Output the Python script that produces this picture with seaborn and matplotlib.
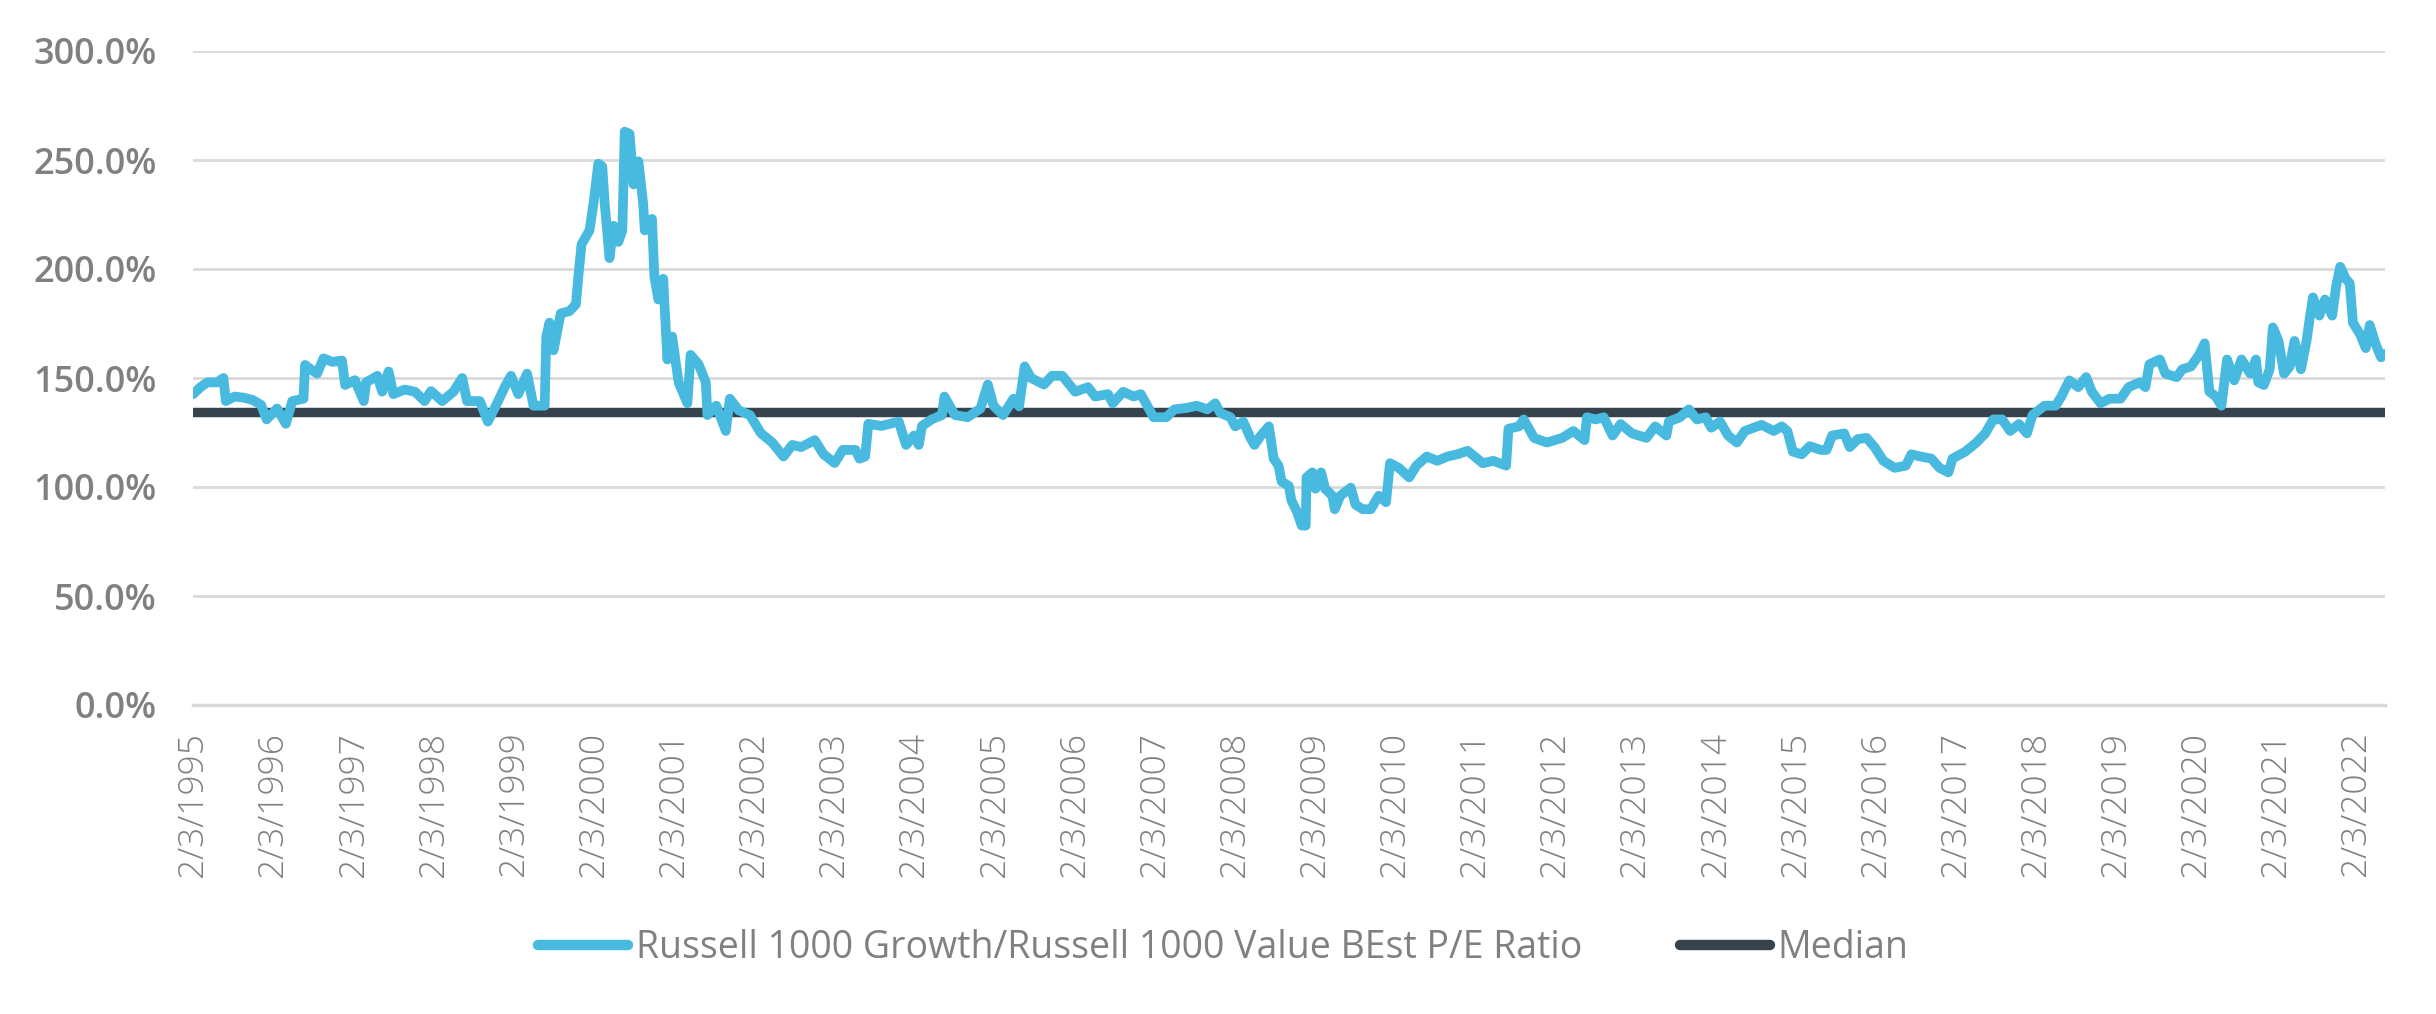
import matplotlib
matplotlib.use("Agg")
import matplotlib.pyplot as plt
import matplotlib.dates as mdates
from matplotlib.ticker import FuncFormatter, FixedLocator
from matplotlib.lines import Line2D
import seaborn as sns
import pandas as pd

# ---------------- data ----------------
year_frac = [
    1995.092, 1995.19, 1995.27, 1995.39, 1995.47, 1995.50, 1995.61, 1995.72, 1995.83, 1995.94,
    1996.01, 1996.14, 1996.25, 1996.33, 1996.47, 1996.49, 1996.56, 1996.64, 1996.72, 1996.83,
    1996.95, 1996.99, 1997.11, 1997.22, 1997.25, 1997.39, 1997.45, 1997.53, 1997.59, 1997.73,
    1997.86, 1997.98, 1998.06, 1998.20, 1998.34, 1998.45, 1998.51, 1998.67, 1998.77, 1998.87,
    1998.98, 1999.06, 1999.15, 1999.26, 1999.34, 1999.48, 1999.50, 1999.54, 1999.59, 1999.68,
    1999.79, 1999.87, 1999.90, 1999.94, 2000.04, 2000.09, 2000.15, 2000.20, 2000.23, 2000.29,
    2000.34, 2000.40, 2000.45, 2000.48, 2000.54, 2000.59, 2000.65, 2000.71, 2000.73, 2000.82,
    2000.85, 2000.90, 2000.96, 2001.01, 2001.07, 2001.15, 2001.26, 2001.30, 2001.40, 2001.49,
    2001.51, 2001.62, 2001.74, 2001.79, 2001.90, 2002.04, 2002.18, 2002.32, 2002.46, 2002.57,
    2002.68, 2002.85, 2002.96, 2003.10, 2003.20, 2003.36, 2003.41, 2003.48, 2003.52, 2003.68,
    2003.90, 2003.99, 2004.09, 2004.15, 2004.19, 2004.31, 2004.44, 2004.47, 2004.60, 2004.76,
    2004.92, 2005.01, 2005.08, 2005.20, 2005.33, 2005.40, 2005.47, 2005.55, 2005.71, 2005.81,
    2005.94, 2006.10, 2006.26, 2006.35, 2006.51, 2006.57, 2006.70, 2006.83, 2006.92, 2007.08,
    2007.24, 2007.34, 2007.50, 2007.62, 2007.75, 2007.85, 2007.91, 2008.04, 2008.10, 2008.20,
    2008.29, 2008.34, 2008.42, 2008.52, 2008.55, 2008.58, 2008.64, 2008.68, 2008.77, 2008.80,
    2008.87, 2008.93, 2008.98, 2008.99, 2009.06, 2009.10, 2009.17, 2009.22, 2009.31, 2009.34,
    2009.41, 2009.54, 2009.60, 2009.69, 2009.79, 2009.89, 2009.98, 2010.03, 2010.14, 2010.27,
    2010.36, 2010.49, 2010.62, 2010.75, 2010.87, 2011.00, 2011.19, 2011.32, 2011.48, 2011.51,
    2011.64, 2011.70, 2011.83, 2011.99, 2012.18, 2012.32, 2012.46, 2012.49, 2012.60, 2012.70,
    2012.81, 2012.91, 2013.05, 2013.23, 2013.34, 2013.48, 2013.51, 2013.65, 2013.76, 2013.86,
    2013.97, 2014.04, 2014.15, 2014.25, 2014.36, 2014.46, 2014.57, 2014.67, 2014.82, 2014.92,
    2014.99, 2015.06, 2015.17, 2015.27, 2015.41, 2015.48, 2015.55, 2015.70, 2015.77, 2015.87,
    2015.98, 2016.08, 2016.19, 2016.33, 2016.47, 2016.54, 2016.65, 2016.79, 2016.89, 2017.00,
    2017.05, 2017.21, 2017.35, 2017.46, 2017.56, 2017.67, 2017.77, 2017.88, 2017.98, 2018.05,
    2018.20, 2018.34, 2018.41, 2018.51, 2018.62, 2018.72, 2018.79, 2018.90, 2019.01, 2019.15,
    2019.25, 2019.39, 2019.46, 2019.51, 2019.64, 2019.71, 2019.85, 2019.92, 2020.03, 2020.13,
    2020.20, 2020.26, 2020.34, 2020.41, 2020.48, 2020.57, 2020.66, 2020.77, 2020.84, 2020.87,
    2020.94, 2021.01, 2021.05, 2021.12, 2021.19, 2021.26, 2021.32, 2021.40, 2021.47, 2021.51,
    2021.55, 2021.63, 2021.70, 2021.79, 2021.84, 2021.89, 2021.96, 2022.01, 2022.05, 2022.14,
    2022.21, 2022.26, 2022.33, 2022.40, 2022.45,
]
ratio_pct = [
    142.6, 146.0, 148.0, 148.0, 150.0, 139.4, 141.5, 141.0, 140.0, 137.7,
    131.0, 136.0, 129.0, 139.4, 140.5, 156.0, 154.0, 152.0, 159.0, 157.4,
    158.0, 146.8, 149.0, 139.4, 148.0, 151.0, 143.7, 153.0, 142.6, 144.7,
    143.7, 139.4, 144.0, 139.4, 143.7, 150.0, 139.4, 139.4, 130.0, 137.3,
    145.8, 151.0, 142.6, 152.0, 137.3, 137.3, 169.0, 175.4, 162.7, 179.6,
    180.7, 183.8, 196.5, 211.3, 217.7, 230.0, 248.3, 247.0, 230.0, 205.0,
    219.8, 212.4, 217.7, 263.0, 262.0, 238.8, 249.4, 230.0, 217.7, 223.0,
    196.5, 186.0, 195.5, 158.5, 169.0, 148.0, 138.4, 160.6, 156.3, 148.0,
    133.0, 137.3, 125.7, 140.5, 135.2, 133.0, 124.6, 120.4, 114.0, 119.3,
    118.3, 121.5, 115.0, 111.0, 117.0, 117.0, 113.0, 114.0, 129.0, 128.0,
    130.0, 119.3, 123.6, 119.3, 128.0, 131.0, 133.0, 141.5, 133.0, 132.0,
    136.0, 147.0, 137.3, 133.0, 140.5, 137.0, 155.3, 150.0, 147.0, 151.0,
    151.0, 143.7, 145.8, 141.5, 142.6, 138.4, 143.7, 141.5, 142.6, 132.0,
    132.0, 135.6, 136.3, 137.3, 135.6, 138.4, 134.1, 132.0, 127.8, 130.0,
    122.5, 119.3, 123.6, 127.8, 120.4, 113.0, 109.8, 102.5, 100.4, 94.0,
    88.7, 82.3, 82.3, 104.4, 106.7, 99.2, 106.7, 99.2, 96.0, 89.8,
    96.0, 99.7, 91.9, 89.8, 89.8, 96.0, 93.0, 110.9, 108.8, 104.4,
    109.8, 114.0, 112.0, 114.0, 115.0, 116.6, 110.9, 112.0, 109.8, 126.7,
    127.8, 131.0, 122.5, 120.4, 122.5, 125.7, 121.5, 132.0, 131.0, 132.0,
    123.6, 128.9, 124.6, 122.5, 127.8, 123.6, 130.0, 132.0, 135.6, 131.0,
    132.0, 127.2, 130.0, 123.6, 120.4, 125.7, 127.2, 128.5, 125.7, 127.8,
    125.7, 116.2, 115.0, 118.7, 117.0, 117.0, 123.6, 124.6, 118.3, 122.0,
    122.5, 118.3, 112.0, 108.8, 109.8, 115.0, 114.0, 113.0, 108.8, 106.7,
    113.0, 116.2, 120.4, 124.6, 131.0, 131.0, 125.7, 128.9, 124.6, 133.0,
    137.3, 137.3, 141.5, 148.9, 145.8, 150.4, 143.7, 138.4, 140.5, 140.5,
    145.8, 148.0, 145.8, 156.3, 158.5, 152.0, 150.4, 154.0, 155.3, 160.6,
    165.9, 143.7, 141.5, 137.3, 158.5, 148.9, 158.5, 152.0, 158.5, 148.0,
    146.8, 154.0, 173.2, 167.0, 152.0, 155.3, 167.0, 154.0, 167.0, 177.5,
    187.0, 178.6, 186.0, 178.6, 192.3, 201.0, 195.5, 193.4, 175.4, 170.0,
    163.7, 174.3, 165.9, 159.5, 161.0,
]
median_pct = 134.5

series_name = "Russell 1000 Growth/Russell 1000 Value BEst P/E Ratio"
median_name = "Median"

x_tick_labels = [
    "2/3/1995", "2/3/1996", "2/3/1997", "2/3/1998", "2/3/1999", "2/3/2000", "2/3/2001",
    "2/3/2002", "2/3/2003", "2/3/2004", "2/3/2005", "2/3/2006", "2/3/2007", "2/3/2008",
    "2/3/2009", "2/3/2010", "2/3/2011", "2/3/2012", "2/3/2013", "2/3/2014", "2/3/2015",
    "2/3/2016", "2/3/2017", "2/3/2018", "2/3/2019", "2/3/2020", "2/3/2021", "2/3/2022",
]
y_ticks = [0, 50, 100, 150, 200, 250, 300]

# ---------------- styling ----------------
BLUE = "#48B9DF"
DARK = "#36434D"
GRID = "#D9D9D9"
TEXT = "#808080"

sns.set_theme(style="white")
plt.rcParams["font.family"] = ["Open Sans", "DejaVu Sans"]


def frac_to_date(v):
    y = int(v)
    return pd.Timestamp(year=y, month=1, day=1) + pd.Timedelta(days=(v - y) * 365.25)


dates = [frac_to_date(v) for v in year_frac]
df = pd.DataFrame({"date": dates, "value": ratio_pct, "series": series_name})
df_med = pd.DataFrame({"date": [dates[0], dates[-1]],
                       "value": [median_pct, median_pct], "series": median_name})

fig = plt.figure(figsize=(24.36, 10.14), dpi=100)
ax = fig.add_axes([193 / 2436, 1 - 705 / 1014, (2385 - 193) / 2436, (705 - 51) / 1014])

sns.lineplot(data=df_med, x="date", y="value", color=DARK, linewidth=6.8, ax=ax,
             legend=False, solid_capstyle="round", zorder=3)
sns.lineplot(data=df, x="date", y="value", color=BLUE, linewidth=7.0, ax=ax,
             legend=False, solid_joinstyle="round", solid_capstyle="round", zorder=4)

tick_dates = [pd.to_datetime(s, format="%m/%d/%Y") for s in x_tick_labels]
ax.set_xlim(tick_dates[0], dates[-1])
ax.set_ylim(y_ticks[0], y_ticks[-1])

ax.xaxis.set_major_locator(FixedLocator([mdates.date2num(d) for d in tick_dates]))
ax.set_xticklabels(x_tick_labels, rotation=90, fontsize=25.5, color=TEXT,
                   fontweight="light", va="top", ha="center")
ax.set_yticks(y_ticks)
ax.yaxis.set_major_formatter(FuncFormatter(lambda v, p: f"{v:.1f}%"))
for lab in ax.get_yticklabels():
    lab.set_fontsize(26)
    lab.set_color(TEXT)
    lab.set_fontweight("semibold")

ax.tick_params(axis="y", length=0, pad=26)
ax.tick_params(axis="x", length=8.6, width=2, color=GRID, pad=10.5, direction="out")
ax.grid(axis="y", color=GRID, linewidth=2)
ax.grid(axis="x", visible=False)
for s in ["top", "right", "left"]:
    ax.spines[s].set_visible(False)
ax.spines["bottom"].set_color(GRID)
ax.spines["bottom"].set_linewidth(2.5)
ax.set_xlabel("")
ax.set_ylabel("")

handles = [
    Line2D([0], [0], color=BLUE, linewidth=7.5, solid_capstyle="round", label=series_name),
    Line2D([0], [0], color=DARK, linewidth=7.5, solid_capstyle="round", label=median_name),
]
leg = fig.legend(handles=handles, loc="center", bbox_to_anchor=(1223 / 2436, 1 - 948 / 1014),
                 ncol=2, frameon=False, fontsize=27, handlelength=2.4, handletextpad=0.2,
                 columnspacing=2.6)
for t in leg.get_texts():
    t.set_color(TEXT)
    t.set_fontweight("medium")

fig.savefig("out.png", dpi=100)
